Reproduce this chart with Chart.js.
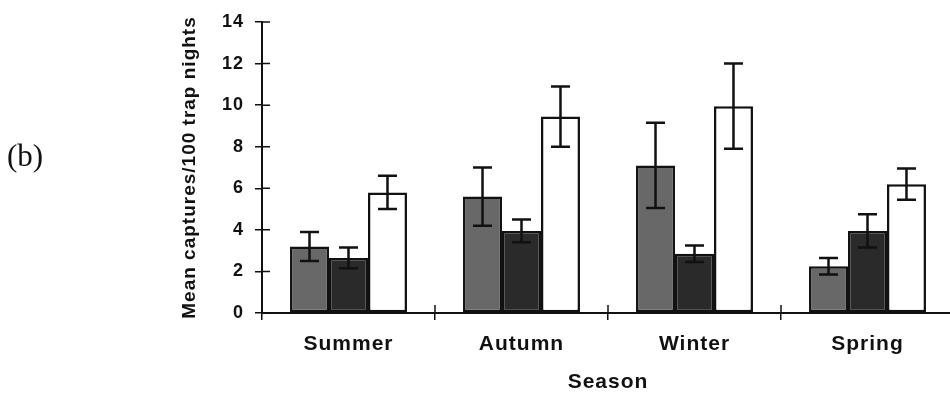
<!DOCTYPE html>
<html><head><meta charset="utf-8">
<script src="https://cdn.jsdelivr.net/npm/chart.js@4.4.1/dist/chart.umd.min.js"></script>
<style>
html,body{margin:0;padding:0;background:#fff;overflow:hidden;width:950px;height:399px;}
#wrap{position:relative;width:954px;height:399px;}
#lbl{position:absolute;left:7px;top:140px;font-family:"Liberation Serif",serif;font-size:31px;color:#111;line-height:1;}
</style></head><body>
<div id="wrap"><canvas id="c" width="954" height="399"></canvas><div id="lbl">(b)</div></div>
<script>
const categories = ['Summer', 'Autumn', 'Winter', 'Spring'];
const seriesA = [3.2, 5.6, 7.1, 2.25];
const errA = [0.7, 1.4, 2.05, 0.4];
const seriesB = [2.65, 3.95, 2.85, 3.95];
const errB = [0.5, 0.55, 0.4, 0.8];
const seriesC = [5.8, 9.45, 9.95, 6.2];
const errC = [0.8, 1.45, 2.05, 0.75];
const yTicks = [0, 2, 4, 6, 8, 10, 12, 14];

const INK = '#111';
const SANS = '"Liberation Sans", Arial, sans-serif';

const spacing = {
  id: 'spacing',
  beforeDraw(chart) { chart.ctx.letterSpacing = '1px'; }
};

const errorBars = {
  id: 'errorBars',
  afterDatasetsDraw(chart) {
    const ctx = chart.ctx, y = chart.scales.y;
    chart.data.datasets.forEach((ds, i) => {
      const meta = chart.getDatasetMeta(i);
      meta.data.forEach((bar, j) => {
        const v = ds.data[j], e = ds.errors[j];
        const yt = y.getPixelForValue(v + e), yb = y.getPixelForValue(v - e);
        ctx.save();
        ctx.strokeStyle = INK; ctx.lineWidth = 2.5;
        ctx.beginPath();
        ctx.moveTo(bar.x, yt); ctx.lineTo(bar.x, yb);
        ctx.moveTo(bar.x - 9.5, yt); ctx.lineTo(bar.x + 9.5, yt);
        ctx.moveTo(bar.x - 9.5, yb); ctx.lineTo(bar.x + 9.5, yb);
        ctx.stroke();
        ctx.restore();
      });
    });
  }
};

const innerTicks = {
  id: 'innerTicks',
  afterDraw(chart) {
    const ctx = chart.ctx, x = chart.scales.x, y = chart.scales.y;
    ctx.save();
    ctx.strokeStyle = INK; ctx.lineWidth = 1.5;
    ctx.beginPath();
    y.ticks.forEach(t => {
      const py = y.getPixelForValue(t.value);
      ctx.moveTo(x.left, py); ctx.lineTo(x.left + 8, py);
    });
    const n = categories.length;
    for (let k = 1; k <= n; k++) {
      const px = x.left + k * x.width / n;
      ctx.moveTo(px, y.bottom); ctx.lineTo(px, y.bottom - 8);
    }
    ctx.stroke();
    ctx.restore();
  }
};

function ds(data, errors, color) {
  return {
    data, errors,
    backgroundColor: color,
    borderColor: INK,
    borderWidth: 2.5,
    borderSkipped: false,
    barPercentage: 1.0,
    categoryPercentage: 0.676
  };
}

new Chart(document.getElementById('c'), {
  type: 'bar',
  data: {
    labels: categories,
    datasets: [
      ds(seriesA, errA, '#686868'),
      ds(seriesB, errB, '#2a2a2a'),
      ds(seriesC, errC, '#ffffff')
    ]
  },
  options: {
    responsive: false,
    animation: false,
    layout: { padding: { top: 22, left: 0, right: 0, bottom: 0 } },
    plugins: { legend: { display: false }, tooltip: { enabled: false } },
    scales: {
      x: {
        ticks: { color: INK, font: { family: SANS, size: 21, weight: 'bold' }, padding: 12 },
        grid: { offset: true, drawOnChartArea: false, tickLength: 7, color: INK, lineWidth: 1.5 },
        border: { color: INK, width: 2 },
        title: { display: true, text: 'Season', color: INK, font: { family: SANS, size: 21, weight: 'bold' }, padding: { top: 0, bottom: 4 } },
        afterFit(s) { s.height = 86; }
      },
      y: {
        min: 0, max: 14,
        afterBuildTicks(s) { s.ticks = yTicks.map(v => ({ value: v })); },
        ticks: { color: INK, font: { family: SANS, size: 18, weight: 'bold' }, padding: 11 },
        grid: { drawOnChartArea: false, tickLength: 7, color: INK, lineWidth: 1.5 },
        border: { color: INK, width: 2 },
        title: { display: true, text: 'Mean captures/100 trap nights', color: INK, font: { family: SANS, size: 19, weight: 'bold' }, padding: { top: 178, bottom: 0 } },
        afterFit(s) { s.width = 262; }
      }
    }
  },
  plugins: [spacing, errorBars, innerTicks]
});
</script>
</body></html>
